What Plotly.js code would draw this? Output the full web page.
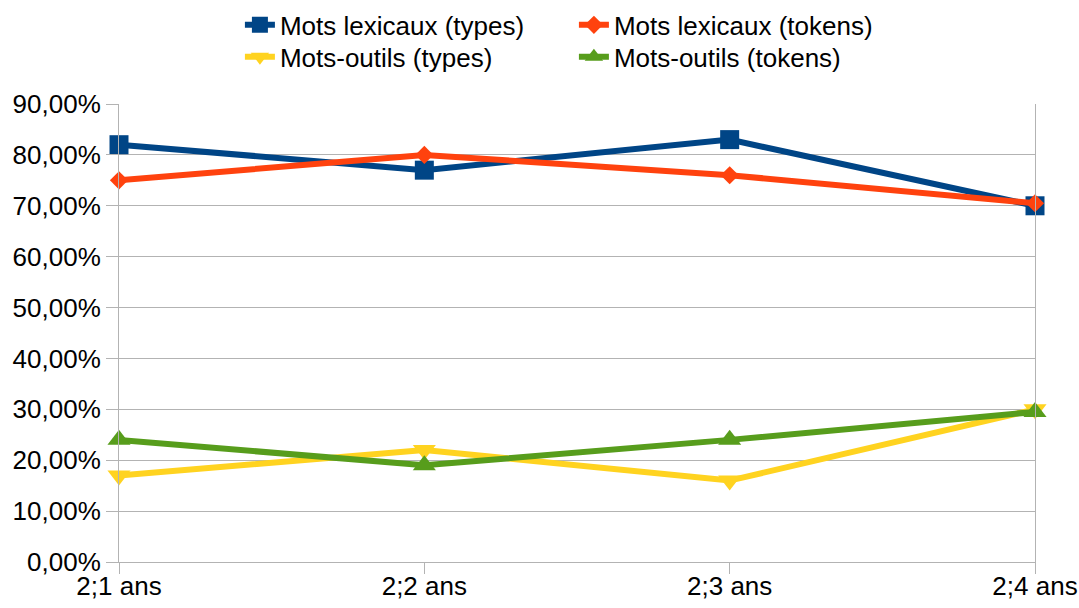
<!DOCTYPE html>
<html><head><meta charset="utf-8">
<script src="https://cdn.plot.ly/plotly-3.0.1.min.js"></script>
<style>body{margin:0;background:#fff}#chart{width:1079px;height:608px}</style>
</head><body><div id="chart"></div>
<script>
const categories = ["2;1 ans", "2;2 ans", "2;3 ans", "2;4 ans"];
const lexTypes = [0.82, 0.77, 0.83, 0.70];
const lexTokens = [0.75, 0.80, 0.76, 0.705];
const outTypes = [0.17, 0.22, 0.16, 0.30];
const outTokens = [0.24, 0.19, 0.24, 0.295];
const seriesNames = ["Mots lexicaux (types)", "Mots lexicaux (tokens)", "Mots-outils (types)", "Mots-outils (tokens)"];

const font = {family: "Liberation Sans, Arial, sans-serif", size: 26, color: "#000"};
function tr(y, name, color, symbol, size, legend) {
  return {x: categories, y: y, name: name, type: "scatter", mode: "lines+markers",
    line: {color: color, width: 6}, marker: {color: color, symbol: symbol, size: size},
    cliponaxis: false, legend: legend};
}
const data = [
  tr(lexTypes, seriesNames[0], "#004586", "square", 19, "legend"),
  tr(lexTokens, seriesNames[1], "#ff420e", "diamond", 14, "legend"),
  tr(outTypes, seriesNames[2], "#ffd320", "triangle-down", 20, "legend2"),
  tr(outTokens, seriesNames[3], "#579d1c", "triangle-up", 20, "legend2")
];
const legBase = {orientation: "h", font: font, bgcolor: "rgba(0,0,0,0)", entrywidth: 289, entrywidthmode: "pixels", xanchor: "left", yanchor: "middle"};
const layout = {
  width: 1079, height: 608,
  margin: {l: 119, r: 44, t: 104, b: 46, autoexpand: false},
  paper_bgcolor: "#fff", plot_bgcolor: "#fff",
  font: font,
  separators: ", ",
  showlegend: true,
  legend: Object.assign({}, legBase, {x: 0.132, y: 1.1726}),
  legend2: Object.assign({}, legBase, {x: 0.132, y: 1.103}),
  xaxis: {type: "category", range: [0, 3], showgrid: false,
    showline: true, linecolor: "#b3b3b3", ticks: "outside", ticklen: 11, tickcolor: "#b3b3b3",
    tickfont: font, zeroline: false, mirror: false, ticklabelstandoff: -10},
  yaxis: {range: [0, 0.9], dtick: 0.1, tickformat: ".2%", showgrid: true, gridcolor: "#b3b3b3",
    showline: true, linecolor: "#b3b3b3", mirror: true, ticks: "outside", ticklen: 12, tickcolor: "#b3b3b3",
    tickfont: font, zeroline: false}
};
Plotly.newPlot("chart", data, layout, {displayModeBar: false, staticPlot: true});
</script></body></html>
